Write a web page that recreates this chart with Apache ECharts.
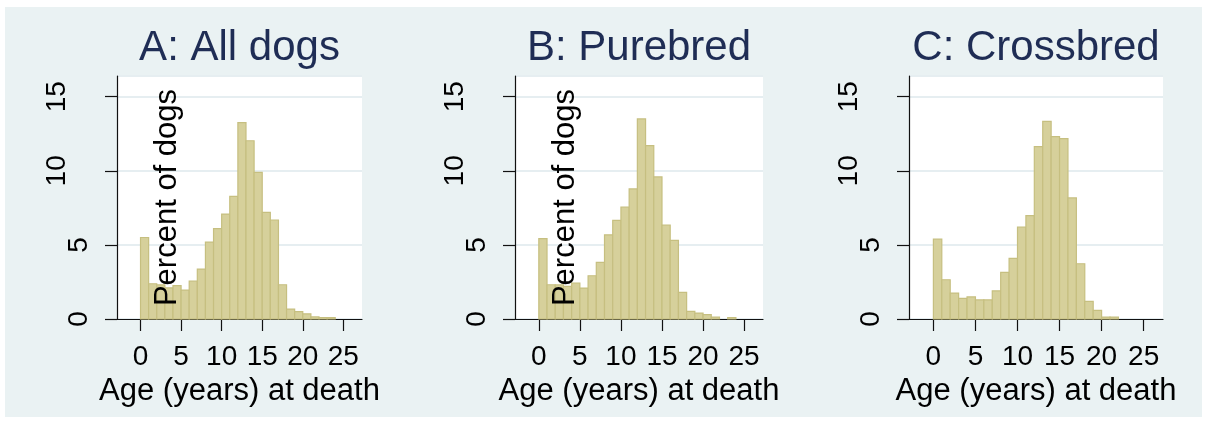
<!DOCTYPE html>
<html>
<head>
<meta charset="utf-8">
<title>Age at death of dogs</title>
<script src="https://cdn.jsdelivr.net/npm/echarts@6/dist/echarts.min.js"></script>
<style>
  html, body { margin: 0; padding: 0; background: #fff; }
  #chart { width: 1207px; height: 424px; }
</style>
</head>
<body>
<div id="chart"></div>
<script>
// bins of one year, left edge of each bin
var binStart = [0, 1, 2, 3, 4, 5, 6, 7, 8, 9, 10, 11, 12, 13, 14, 15, 16, 17, 18, 19, 20, 21, 22, 23];
// percent of dogs in each bin
var allDogs   = [5.5, 2.38, 2.3, 2.1, 2.25, 1.95, 2.55, 3.37, 5.19, 6.1, 7.08, 8.27, 13.26, 12.03, 9.9, 7.2, 6.68, 2.31, 0.67, 0.5, 0.35, 0.14, 0.1, 0.09];
var purebred  = [5.43, 2.31, 2.3, 2.2, 2.43, 2.09, 2.92, 3.82, 5.68, 6.65, 7.55, 8.78, 13.5, 11.7, 9.59, 6.33, 5.3, 1.8, 0.52, 0.4, 0.29, 0.13, 0, 0.1];
var crossbred = [5.39, 2.65, 1.75, 1.39, 1.49, 1.29, 1.29, 1.9, 3.14, 4.09, 6.2, 6.98, 11.63, 13.34, 12.31, 12.17, 8.17, 3.73, 1.19, 0.58, 0.13, 0.13, 0, 0];

var panelTitles = ['A: All dogs', 'B: Purebred', 'C: Crossbred'];
var xTicks = [0, 5, 10, 15, 20, 25];
var xName = 'Age (years) at death';
var yName = 'Percent of dogs';

var font = 'Liberation Sans, Arial, sans-serif';
var bgColor = '#EAF2F3';
var barFill = '#d6d09b';
var barLine = '#c6bf80';
var binWidth = 1;

// panel boxes (left, width)
var panels = [
    {left: 117, width: 245, data: allDogs, yTitle: true},
    {left: 515, width: 248, data: purebred, yTitle: true},
    {left: 909, width: 254, data: crossbred, yTitle: false}
];
var gridTop = 76, gridHeight = 243;

function renderBar(params, api) {
    var h = api.value(1);
    if (!h) return null;
    var x0 = api.value(0);
    var p0 = api.coord([x0, 0]);
    var p1 = api.coord([x0 + binWidth, h]);
    return {
        type: 'rect',
        shape: {x: p0[0], y: p1[1], width: p1[0] - p0[0], height: p0[1] - p1[1]},
        style: {fill: barFill, stroke: barLine, lineWidth: 1.2}
    };
}

var chart = echarts.init(document.getElementById('chart'));

var option = {
    backgroundColor: '#fff',
    animation: false,
    title: [],
    grid: [],
    xAxis: [],
    yAxis: [],
    series: [],
    graphic: [{
        type: 'rect',
        z: -10,
        silent: true,
        shape: {x: 5, y: 7, width: 1197, height: 410},
        style: {fill: bgColor}
    }]
};

panels.forEach(function (p, i) {
    option.title.push({
        text: panelTitles[i],
        left: p.left + p.width / 2,
        top: 27,
        padding: 0,
        textAlign: 'center',
        textStyle: {fontFamily: font, fontSize: 42, fontWeight: 'normal', color: '#1F2D55'}
    });
    option.grid.push({
        left: p.left, top: gridTop, width: p.width, height: gridHeight,
        show: true, backgroundColor: '#fff', borderWidth: 0
    });
    option.xAxis.push({
        type: 'value',
        gridIndex: i,
        min: -2.9,
        max: 27.3,
        name: xName,
        nameLocation: 'middle',
        nameGap: 52,
        nameTextStyle: {fontFamily: font, fontSize: 31, color: '#000'},
        axisLine: {show: true, onZero: false, lineStyle: {color: '#111', width: 1.2}},
        axisTick: {show: true, length: 12, customValues: xTicks, lineStyle: {color: '#111', width: 1.2}},
        axisLabel: {customValues: xTicks, margin: 24, fontFamily: font, fontSize: 28, color: '#000'},
        splitLine: {show: false}
    });
    option.yAxis.push({
        type: 'value',
        gridIndex: i,
        min: 0,
        max: 16.4,
        interval: 5,
        axisLine: {show: true, onZero: false, lineStyle: {color: '#111', width: 1.2}},
        axisTick: {show: true, length: 12, lineStyle: {color: '#111', width: 1.2}},
        axisLabel: {
            rotate: 90,
            margin: 24,
            fontFamily: font, fontSize: 28, color: '#000',
            showMaxLabel: false,
            formatter: function (v) { return v >= 10 ? '{w|' + v + '}' : '{n|' + v + '}'; },
            rich: {
                w: {fontFamily: font, fontSize: 28, color: '#000', padding: [0, 0, 22, 0]},
                n: {fontFamily: font, fontSize: 28, color: '#000'}
            }
        },
        splitLine: {show: true, lineStyle: {color: '#E6EEF1', width: 2}}
    });
    option.series.push({
        type: 'custom',
        xAxisIndex: i,
        yAxisIndex: i,
        renderItem: renderBar,
        encode: {x: 0, y: 1},
        data: binStart.map(function (b, k) { return [b, p.data[k]]; })
    });
    if (p.yTitle) {
        option.graphic.push({
            type: 'text',
            silent: true,
            x: p.left + 50,
            y: gridTop + gridHeight / 2,
            rotation: Math.PI / 2,
            style: {
                text: yName,
                fontFamily: font, fontSize: 31, fill: '#000',
                align: 'center', verticalAlign: 'middle'
            },
            z: 10
        });
    }
});

chart.setOption(option);
</script>
</body>
</html>
